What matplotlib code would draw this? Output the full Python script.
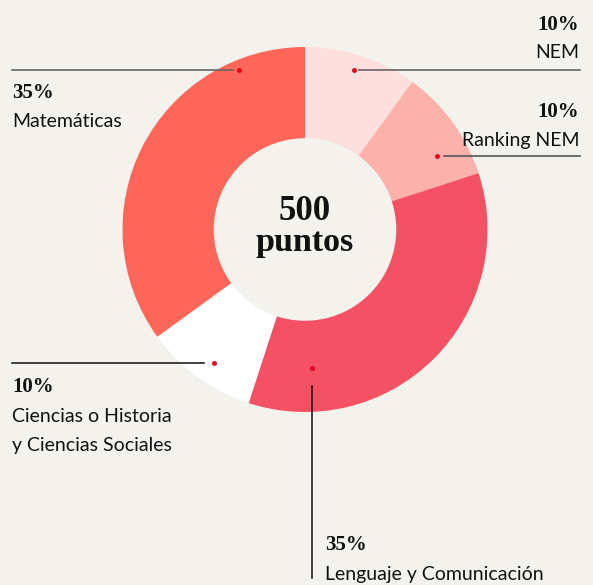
#!/usr/bin/env python3
import matplotlib.pyplot as plt

# Puntaje por prueba (clockwise from top)
labels = ["NEM", "Ranking NEM", "Lenguaje y Comunicación",
          "Ciencias o Historia\ny Ciencias Sociales", "Matemáticas"]
values = [10, 10, 35, 10, 35]
colors = ["#fde0dd", "#fdb1ab", "#f45165", "#ffffff", "#ff665a"]
total_text = ["500", "puntos"]

BG = "#f4f2ed"
W, H = 593, 585


def py(y):
    # pixel row (top origin) -> data y
    return H - y


fig = plt.figure(figsize=(W / 100, H / 100), dpi=100, facecolor=BG)
ax = fig.add_axes([0, 0, 1, 1])
ax.set_facecolor(BG)

cx, cy, r = 305, 229.5, 182.5
ax.pie(values, colors=colors, startangle=90, counterclock=False,
       radius=r, center=(cx, py(cy)),
       wedgeprops=dict(width=r * 0.5, linewidth=0))
ax.set_xlim(0, W)
ax.set_ylim(0, H)
ax.set_aspect("equal")
ax.axis("off")

ax.text(cx, py(220), total_text[0], ha="center", va="baseline",
        fontsize=25, fontweight="bold", family="Liberation Serif", color="#111111")
ax.text(cx, py(251.5), total_text[1], ha="center", va="baseline",
        fontsize=24.5, fontweight="bold", family="Liberation Serif", color="#111111")

# leader lines: dot, line segment, text block
dot_c = "#e3001b"
ms = 2.5
pct_kw = dict(fontsize=15, fontweight="bold", family="Liberation Serif", color="#111111")
lab_kw = dict(fontsize=14, family="Lato", color="#111111")

# NEM
ax.plot([359, 580], [py(70), py(70)], color="#666666", lw=1.2)
ax.plot([354], [py(70)], "o", color=dot_c, ms=ms)
ax.text(579, py(30), f"{values[0]}%", ha="right", va="baseline", **pct_kw)
ax.text(579, py(58), labels[0], ha="right", va="baseline", **lab_kw)

# Ranking NEM
ax.plot([444, 580], [py(156), py(156)], color="#555555", lw=1.2)
ax.plot([437], [py(156)], "o", color=dot_c, ms=ms)
ax.text(579, py(117), f"{values[1]}%", ha="right", va="baseline", **pct_kw)
ax.text(579, py(146), labels[1], ha="right", va="baseline", **lab_kw)

# Lenguaje y Comunicación
ax.plot([312, 312], [py(386), py(578)], color="#111111", lw=1.1)
ax.plot([312], [py(368)], "o", color=dot_c, ms=ms)
ax.text(325, py(550), f"{values[2]}%", ha="left", va="baseline", **pct_kw)
ax.text(325, py(580), labels[2], ha="left", va="baseline", **lab_kw)

# Ciencias
ax.plot([12, 204], [py(363), py(363)], color="#111111", lw=1.1)
ax.plot([214], [py(363)], "o", color=dot_c, ms=ms)
ax.text(12, py(392), f"{values[3]}%", ha="left", va="baseline", **pct_kw)
for i, line in enumerate(labels[3].split("\n")):
    ax.text(12, py(422 + 29 * i), line, ha="left", va="baseline", **lab_kw)

# Matemáticas
ax.plot([12, 233], [py(70), py(70)], color="#666666", lw=1.2)
ax.plot([239], [py(70)], "o", color=dot_c, ms=ms)
ax.text(12, py(98), f"{values[4]}%", ha="left", va="baseline", **pct_kw)
ax.text(12, py(127), labels[4], ha="left", va="baseline", **lab_kw)

plt.savefig("out.png", dpi=100, facecolor=BG)
